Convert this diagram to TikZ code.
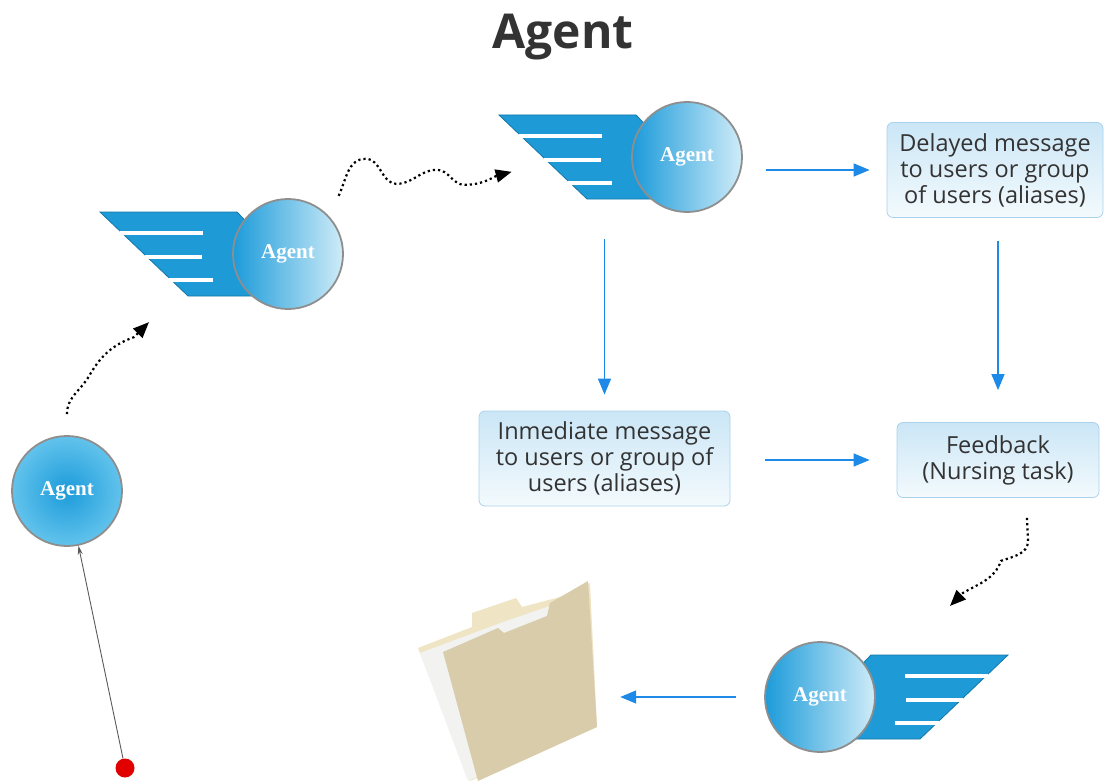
\documentclass[tikz,border=0pt]{standalone}
\usepackage{fontspec}
\setmainfont{Open Sans}
\newfontfamily\agentfont{Liberation Serif}
\usetikzlibrary{positioning, shapes, arrows.meta, calc, backgrounds}

\definecolor{wingblue}{HTML}{1E9AD6}
\definecolor{wingedge}{HTML}{1577A8}
\definecolor{agentdark}{HTML}{1C9BDA}
\definecolor{agentlight}{HTML}{CFECF8}
\definecolor{agentmid}{HTML}{62C3EC}
\definecolor{circleedge}{HTML}{8E8E8E}
\definecolor{boxtop}{HTML}{CBE6F6}
\definecolor{boxbottom}{HTML}{F3FAFD}
\definecolor{boxedge}{HTML}{A9D2EC}
\definecolor{flowblue}{HTML}{1C8AE6}
\definecolor{textgray}{HTML}{333333}
\definecolor{folderfront}{HTML}{D8CCAA}
\definecolor{folderback}{HTML}{EFE4C4}
\definecolor{paper}{HTML}{F2F2F0}
\definecolor{dotred}{HTML}{E00000}

\begin{document}
\begin{tikzpicture}[x=1pt, y=-1pt,
    agent/.style={circle, draw=circleedge, line width=1.8pt, minimum size=110pt,
      inner sep=0pt, left color=agentdark, middle color=agentmid, right color=agentlight,
      text=white, font=\agentfont\bfseries\fontsize{21}{24}\selectfont},
    agentsolo/.style={agent, inner color=agentdark, outer color=agentmid},
    msgbox/.style={rectangle, rounded corners=6pt, draw=boxedge, line width=0.8pt,
      top color=boxtop, bottom color=boxbottom, text=textgray, align=center,
      font=\fontsize{23.5}{26}\selectfont},
    flow/.style={-{Triangle[length=16pt,width=13pt]}, flowblue, line width=1.4pt},
    trail/.style={-{Triangle[length=16pt,width=13pt]}, line width=2.2pt,
      dash pattern=on 2.2pt off 3pt},
    wingfill/.style={fill=wingblue, draw=wingedge, line width=0.8pt}]

    \useasboundingbox (0,0) rectangle (1105,781);

    % Wing behind an agent circle, #1 = centre, #2 = 1 (left) or -1 (right)
    \def\wing#1#2{%
      \begin{scope}[shift={(#1)}, xscale=#2]
        \draw[wingfill] (-188,-42) -- (-51,-42) -- (-10,0) -- (-20,42) -- (-100,42) -- cycle;
        \draw[white, line width=3.6pt] (-168,-21) -- (-85,-21);
        \draw[white, line width=3.6pt] (-143,3) -- (-86,3);
        \draw[white, line width=3.6pt] (-119,26) -- (-75,26);
      \end{scope}}

    % Title
    \node[font=\bfseries\fontsize{48}{56}\selectfont, text=textgray] (title) at (563,37) {Agent};

    % Agents
    \node[agentsolo] (a1) at (67,491) {Agent};
    \node[agent] (a2) at (288,254) {Agent};
    \node[agent] (a3) at (687,157) {Agent};
    \node[agent] (a4) at (820,697) {Agent};

    \begin{scope}[on background layer]
        \wing{a2.center}{1}
        \wing{a3.center}{1}
        \wing{a4.center}{-1}
    \end{scope}

    % Messages
    \node[msgbox, minimum width=216pt, minimum height=95pt] (delayed) at (995,170)
        {Delayed message\\to users or group\\of users (aliases)};
    \node[msgbox, minimum width=251pt, minimum height=95pt] (inmediate) at (604.5,458.5)
        {Inmediate message\\to users or group of\\users (aliases)};
    \node[msgbox, minimum width=202pt, minimum height=75pt] (feedback) at (998,460)
        {Feedback\\(Nursing task)};

    % Folder
    \node[minimum width=182pt, minimum height=198pt, inner sep=0pt] (folder) at (506,680) {};
    \fill[folderback] (418,648) -- (472,627) -- (472,613) -- (516,598) -- (522,607)
        -- (560,597) -- (590,583) -- (597,727) -- (470,781) -- cycle;
    \fill[paper] (420,653) -- (503,622) -- (550,606) -- (588,591) -- (595,722)
        -- (468,781) -- cycle;
    \fill[folderfront] (443,652) -- (498,628) -- (504,633) -- (547,616) -- (550,603)
        -- (588,581) -- (597,727) -- (478,781) -- cycle;

    % Start point
    \node[circle, fill=dotred, minimum size=19pt, inner sep=0pt] (start) at (125,768) {};

    % Connectors
    \draw[-{Stealth[length=9pt,width=5pt]}, gray!70!black, line width=0.9pt] (start) -- (a1);

    \draw[trail] ([yshift=21pt]a1.north) to[out=90,in=-120] ++(22,-38)
        to[out=60,in=-160] ++(45,-39) -- ++(15,-15);
    \draw[trail] ([shift={(14,-16)}]a2.49) to[out=65,in=180] ++(27,-37)
        to[out=0,in=180] ++(31,25) to[out=0,in=180] ++(40,-14)
        to[out=0,in=180] ++(28,15) to[out=0,in=195] ++(47,-13);
    \draw[trail] ([shift={(29,20)}]feedback.south) -- ++(1,23)
        to[out=-90,in=20] ++(-27,20) to[out=-110,in=30] ++(-38,32) -- ++(-13,13);

    \draw[flow] ([xshift=23pt]a3.east |- delayed.west) -- ([xshift=-17pt]delayed.west);
    \draw[flow] ([yshift=-26pt]inmediate.north |- a3.south) -- ([yshift=16pt]inmediate.north);
    \draw[flow] ([yshift=-23pt]feedback.north |- delayed.south) -- ([yshift=32pt]feedback.north);
    \draw[flow] ([xshift=35pt]inmediate.east |- feedback.west) -- ([xshift=-27pt]feedback.west);
    \draw[flow] ([xshift=-28pt]a4.west) -- ([xshift=23pt]folder.east |- a4.west);
\end{tikzpicture}
\end{document}
